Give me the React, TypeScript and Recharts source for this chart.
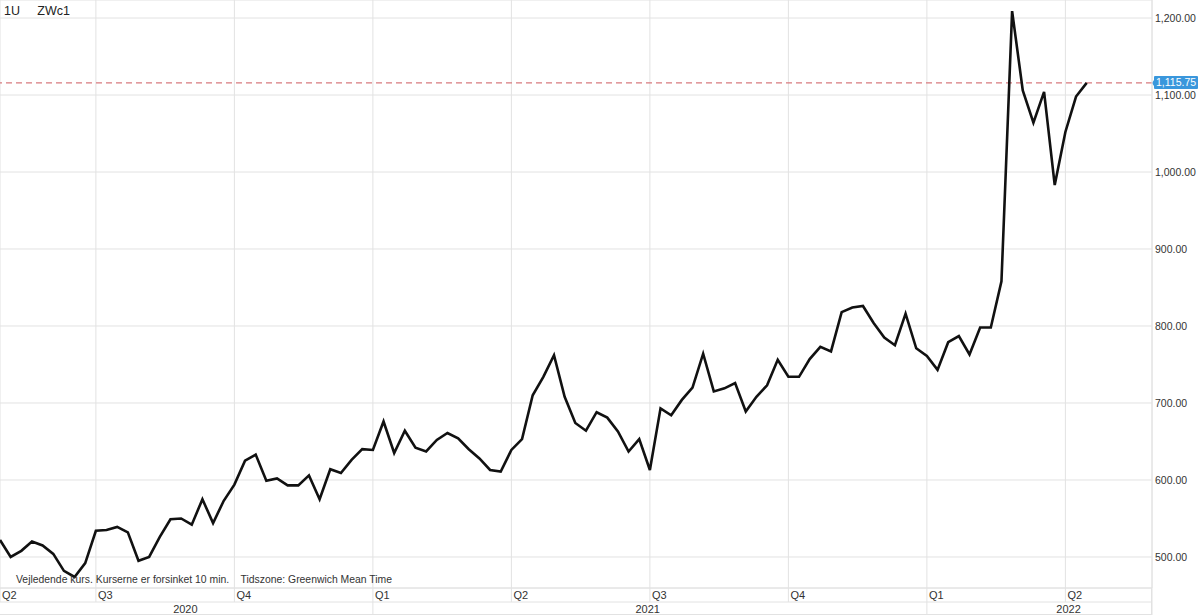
import React from 'react';
import { LineChart, Line, XAxis, YAxis, CartesianGrid, ReferenceLine } from 'recharts';

// Weekly settlement prices (ZWc1)
const prices = [
  522, 500, 508, 520, 515, 504, 482, 474, 492, 534, 535, 539, 532, 495, 500, 526, 549, 550, 542, 575,
  544, 573, 594, 625, 633, 599, 602, 593, 593, 606, 575, 614, 609, 626, 640, 639, 676, 635,
  664, 642, 637, 652, 661, 654, 640, 628, 613, 611, 639, 653, 710, 734, 762, 708, 674, 664, 688, 681,
  663, 637, 653, 613, 693, 684, 704, 720, 764, 715, 719, 726, 689, 708, 723, 756,
  734, 734, 757, 773, 767, 818, 824, 826, 804, 785, 775, 816, 771, 761, 743, 779, 787, 763, 798, 798,
  858, 1209, 1106, 1064, 1104, 983, 1052, 1098, 1115.75,
];

const quarterAt = [0, 9, 22, 35, 48, 61, 74, 87, 100];
const quarterLabels = ['Q2', 'Q3', 'Q4', 'Q1', 'Q2', 'Q3', 'Q4', 'Q1', 'Q2'];
const yearAt = [17.4, 60.8, 100.3];
const yearLabels = ['2020', '2021', '2022'];
const yearBreaks = [35, 87];
const yTicks = [500, 600, 700, 800, 900, 1000, 1100, 1200];
const lastPrice = 1115.75;
const lastPriceLabel = '1,115.75';

const X_END = 108.13;
const FONT = '"Liberation Sans", Arial, Helvetica, sans-serif';
const GRID = '#e2e2e2';
const TEXT = '#333';

const data = prices.map((p, i) => ({ i, p }));

const fmt = (v: number) =>
  v.toLocaleString('en-US', { minimumFractionDigits: 2, maximumFractionDigits: 2 });

const QuarterTick = (props: any) => {
  const { x, y, payload } = props;
  const idx = quarterAt.indexOf(payload.value);
  const label = idx >= 0 ? quarterLabels[idx] : '';
  return (
    <g>
      <line x1={x} x2={x} y1={y} y2={y + 14} stroke={GRID} strokeWidth={1} />
      <text x={x + 2} y={y + 11} fontSize={11} fill={TEXT} fontFamily={FONT}>
        {label}
      </text>
    </g>
  );
};

const YearTick = (props: any) => {
  const { x, y, payload } = props;
  const v = payload.value;
  const idx = yearAt.indexOf(v);
  if (idx < 0) {
    return <line x1={x} x2={x} y1={y} y2={y + 13} stroke={GRID} strokeWidth={1} />;
  }
  return (
    <text x={x} y={y + 10.5} fontSize={11} fill={TEXT} fontFamily={FONT} textAnchor="middle">
      {yearLabels[idx]}
    </text>
  );
};

const PriceTag = (props: any) => {
  const vb = props.viewBox || {};
  const x = (vb.x ?? 0) + (vb.width ?? 0) + 2;
  const y = vb.y ?? 0;
  return (
    <g>
      <path
        d={`M ${x - 2} ${y} L ${x} ${y - 3} L ${x} ${y + 3} Z`}
        fill="#3a97dc"
      />
      <rect x={x} y={y - 7} width={44} height={13} fill="#3a97dc" rx={1} />
      <text x={x + 2} y={y + 3.5} fontSize={10.5} fill="#ffffff" fontFamily={FONT}>
        {lastPriceLabel}
      </text>
    </g>
  );
};

export default function App() {
  return (
    <div style={{ position: 'absolute', left: 0, top: 0, width: 1200, height: 615, background: '#fff' }}>
      <LineChart
        width={1200}
        height={615}
        data={data}
        margin={{ top: 0, right: 0, bottom: 0, left: 0 }}
      >
        <CartesianGrid stroke={GRID} strokeWidth={1} />
        <XAxis
          dataKey="i"
          type="number"
          domain={[0, X_END]}
          allowDataOverflow
          ticks={[...quarterAt, X_END]}
          interval={0}
          height={14}
          tickSize={0}
          tickMargin={0}
          axisLine={{ stroke: GRID }}
          tickLine={false}
          tick={<QuarterTick />}
        />
        <XAxis
          xAxisId="year"
          dataKey="i"
          type="number"
          domain={[0, X_END]}
          allowDataOverflow
          ticks={[...yearAt, ...yearBreaks, X_END].sort((a, b) => a - b)}
          interval={0}
          height={13}
          tickSize={0}
          tickMargin={0}
          axisLine={{ stroke: GRID }}
          tickLine={false}
          tick={<YearTick />}
        />
        <YAxis
          orientation="right"
          width={48}
          domain={[459.7, 1223.4]}
          allowDataOverflow
          ticks={yTicks}
          interval={0}
          tickSize={0}
          tickMargin={3}
          tickLine={false}
          axisLine={{ stroke: GRID }}
          tickFormatter={fmt}
          tick={{ fill: TEXT, fontSize: 10.5, fontFamily: FONT }}
        />
        <ReferenceLine
          y={lastPrice}
          stroke="#d77b7f"
          strokeDasharray="6 4"
          strokeWidth={1.2}
          label={(p: any) => <PriceTag {...p} />}
        />
        <Line
          type="linear"
          dataKey="p"
          stroke="#111"
          strokeWidth={2.6}
          dot={false}
          activeDot={false}
          isAnimationActive={false}
        />
      </LineChart>
      <div style={{ position: 'absolute', left: 0, top: 614, width: 1152, height: 1, background: GRID }} />
      <div style={{ position: 'absolute', left: 1151, top: 588, width: 1, height: 27, background: GRID }} />
      <div style={{ position: 'absolute', left: 4, top: 4, fontFamily: FONT, fontSize: 12.5, color: '#222', whiteSpace: 'pre' }}>
        1U{'     '}ZWc1
      </div>
      <div style={{ position: 'absolute', left: 16, top: 574, fontFamily: FONT, fontSize: 10.4, color: TEXT, whiteSpace: 'pre' }}>
        Vejledende kurs. Kurserne er forsinket 10 min.{'    '}Tidszone: Greenwich Mean Time
      </div>
    </div>
  );
}
